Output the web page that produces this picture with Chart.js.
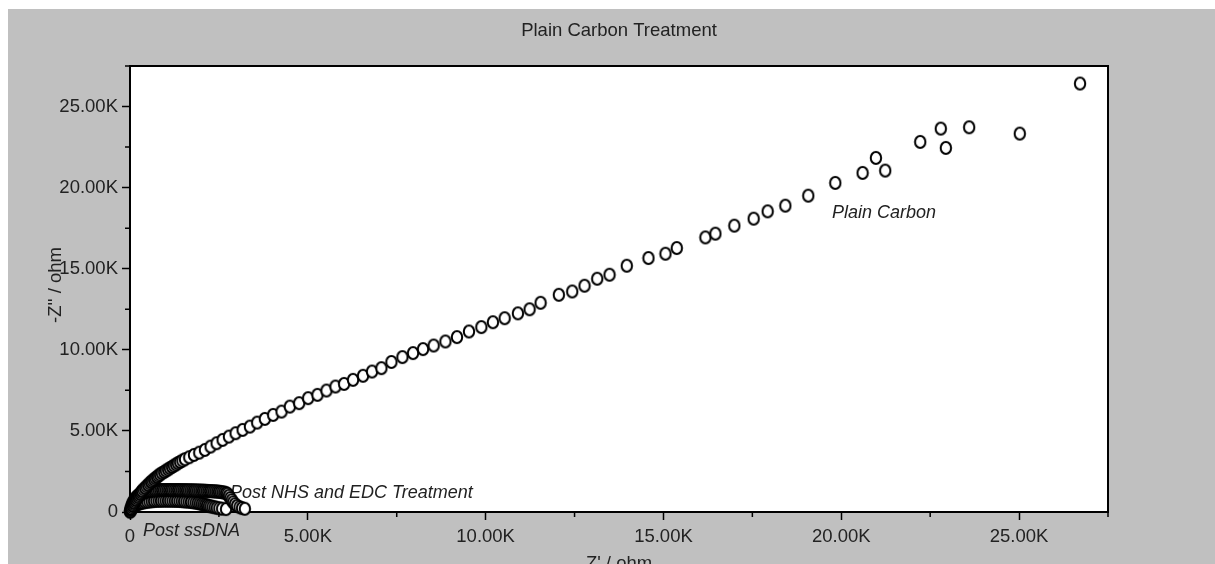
<!DOCTYPE html>
<html>
<head>
<meta charset="utf-8">
<title>Plain Carbon Treatment</title>
<script src="https://cdn.jsdelivr.net/npm/chart.js@4.4.1/dist/chart.umd.min.js"></script>
<style>
  html, body { margin: 0; padding: 0; background: #fff; overflow: hidden; }
  #panel { position: absolute; left: 8px; top: 9px; width: 1207px; height: 555px; background: #c0c0c0; }
  canvas { display: block; }
</style>
</head>
<body>
<div id="panel"><canvas id="chart" width="1207" height="555"></canvas></div>
<script>
// Nyquist data (ohm)
const plainZre = [28, 52, 80, 99, 115, 138, 166, 195, 228, 251, 283, 306, 339, 377, 424, 461, 508, 546, 592, 629,
  676, 713, 760, 797, 845, 896, 958, 1008, 1070, 1120, 1182, 1233, 1295, 1345, 1408, 1472, 1545, 1666, 1798,
  1947, 2107, 2267, 2435, 2604, 2781, 2969, 3166, 3371, 3576, 3792, 4025, 4261, 4494, 4756, 5009, 5272, 5525, 5778, 6020,
  6272, 6553, 6806, 7070, 7351, 7660, 7958, 8239, 8539, 8868, 9194, 9531, 9879, 10205, 10534, 10908, 11236, 11545, 12059, 12435,
  12781, 13138, 13483, 13969, 14579, 15056, 15374, 16180, 16461, 16994, 17537, 17930, 18427, 19073, 19832, 20599, 20974, 21236, 22219, 22798,
  22940, 23596, 25019, 26713];
const plainZim = [190, 285, 372, 460, 553, 650, 738, 836, 921, 1020, 1108, 1207, 1292, 1392, 1478, 1577, 1663, 1762, 1848, 1932,
  2003, 2086, 2158, 2241, 2312, 2395, 2466, 2549, 2621, 2704, 2775, 2858, 2929, 3013, 3084, 3168, 3253, 3377, 3519,
  3661, 3827, 4031, 4241, 4445, 4648, 4858, 5062, 5266, 5513, 5741, 5988, 6192, 6500, 6710, 7019, 7222, 7488, 7735, 7900,
  8148, 8400, 8661, 8871, 9250, 9550, 9797, 10044, 10266, 10513, 10784, 11130, 11402, 11700, 11950, 12250, 12500, 12900, 13395, 13599,
  13951, 14383, 14630, 15185, 15661, 15926, 16278, 16933, 17161, 17655, 18087, 18538, 18889, 19507, 20291, 20908, 21833, 21049, 22820, 23642,
  22450, 23722, 23333, 26420];

const nhsZre = [5, 12, 20, 30, 42, 56, 72, 90, 110, 132, 156, 182, 210, 240, 272, 306, 342, 380, 420, 462,
  506, 552, 600, 650, 700, 750, 800, 850, 900, 950, 1000, 1050, 1100, 1150, 1200, 1250, 1300, 1350, 1400, 1450,
  1500, 1550, 1600, 1650, 1700, 1750, 1800, 1850, 1900, 1950, 2000, 2050, 2100, 2150, 2200, 2250, 2300, 2350, 2400, 2450,
  2500, 2550, 2600, 2650, 2700, 2740, 2780, 2820, 2860, 2900, 2950, 3010, 3080, 3150, 3230];
const nhsZim = [40, 115, 200, 285, 370, 455, 540, 620, 695, 770, 845, 910, 970, 1030, 1080, 1125, 1165, 1200, 1230, 1260,
  1285, 1305, 1320, 1332, 1340, 1346, 1350, 1353, 1355, 1356, 1357, 1357, 1357, 1356, 1356, 1355, 1354, 1353, 1352, 1350,
  1348, 1346, 1344, 1341, 1338, 1335, 1332, 1329, 1325, 1321, 1317, 1313, 1308, 1303, 1298, 1292, 1285, 1278, 1270, 1261,
  1250, 1237, 1220, 1200, 1170, 1120, 1000, 860, 730, 600, 480, 380, 300, 240, 200];

const dnaZre = [5, 12, 22, 35, 50, 68, 90, 115, 145, 180, 220, 265, 315, 370, 425, 485, 545, 610, 675, 740,
  805, 870, 935, 1000, 1065, 1130, 1195, 1260, 1325, 1390, 1455, 1520, 1585, 1650, 1715, 1780, 1845, 1905, 1960, 2015,
  2065, 2115, 2165, 2215, 2265, 2320, 2380, 2440, 2510, 2590, 2700];
const dnaZim = [25, 70, 120, 170, 220, 270, 320, 365, 410, 452, 490, 525, 557, 585, 610, 632, 650, 665, 677, 686,
  692, 696, 698, 699, 699, 698, 695, 691, 686, 680, 672, 662, 650, 636, 620, 601, 580, 556, 530, 500,
  470, 440, 410, 380, 350, 320, 290, 260, 230, 205, 180];

const majorTicks = [0, 5000, 10000, 15000, 20000, 25000];
const minorTicks = [2500, 7500, 12500, 17500, 22500, 27500];

const FAMILY = "'Liberation Sans', Arial, Helvetica, sans-serif";
const tickFont = { family: FAMILY, size: 18.5 };
const textColor = '#222';

const fmt = v => v === 0 ? '0' : (v / 1000).toFixed(2) + 'K';

// open marker, a little taller than wide like the original plot
function ring() {
  const c = document.createElement('canvas');
  c.width = 14;
  c.height = 16;
  const g = c.getContext('2d');
  g.beginPath();
  g.ellipse(7, 8, 5.2, 6, 0, 0, 2 * Math.PI);
  g.fillStyle = '#fff';
  g.fill();
  g.lineWidth = 2;
  g.strokeStyle = '#000';
  g.stroke();
  return c;
}
const marker = ring();

function series(label, xs, ys) {
  return {
    label,
    data: xs.map((x, i) => ({ x, y: ys[i] })),
    pointStyle: marker,
    pointRadius: 6,
    showLine: false,
    clip: false
  };
}

// plot box, minor ticks and all free text
const decor = {
  id: 'decor',
  beforeDraw(chart) {
    const { ctx, chartArea: a } = chart;
    ctx.save();
    ctx.fillStyle = '#fff';
    ctx.fillRect(a.left, a.top, a.right - a.left, a.bottom - a.top);
    ctx.restore();
  },
  beforeDatasetsDraw(chart) {
    const ctx = chart.ctx;
    ctx.save();
    ctx.fillStyle = textColor;
    ctx.font = 'italic 18px ' + FAMILY;
    ctx.textAlign = 'left';
    ctx.textBaseline = 'alphabetic';
    ctx.fillText('Plain Carbon', 824, 209);
    ctx.fillText('Post NHS and EDC Treatment', 222, 489);
    ctx.fillText('Post ssDNA', 135, 527);
    ctx.restore();
  },
  afterDraw(chart) {
    const { ctx, chartArea: a, scales } = chart;
    ctx.save();
    ctx.strokeStyle = '#000';
    ctx.lineWidth = 2;
    ctx.beginPath();
    ctx.moveTo(a.left, a.top);
    ctx.lineTo(a.right, a.top);
    ctx.lineTo(a.right, a.bottom);
    ctx.stroke();

    ctx.lineWidth = 1.5;
    ctx.beginPath();
    for (const v of minorTicks) {
      const px = scales.x.getPixelForValue(v);
      ctx.moveTo(px, a.bottom);
      ctx.lineTo(px, a.bottom + 5);
      const py = scales.y.getPixelForValue(v);
      ctx.moveTo(a.left - 5, py);
      ctx.lineTo(a.left, py);
    }
    ctx.stroke();

    ctx.fillStyle = textColor;
    ctx.font = '18.5px ' + FAMILY;
    ctx.textAlign = 'center';
    ctx.textBaseline = 'alphabetic';
    ctx.fillText('Plain Carbon Treatment', (a.left + a.right) / 2, 27);
    ctx.fillText("Z' / ohm", (a.left + a.right) / 2, 560);

    ctx.translate(47.5, (a.top + a.bottom) / 2 - 4);
    ctx.rotate(-Math.PI / 2);
    ctx.textBaseline = 'middle';
    ctx.fillText("-Z'' / ohm", 0, 0);
    ctx.restore();
  }
};

function axis(fit, pad) {
  return {
    type: 'linear',
    min: 0,
    max: 27500,
    afterBuildTicks: s => { s.ticks = majorTicks.map(v => ({ value: v })); },
    afterFit: fit,
    grid: { drawOnChartArea: false, tickLength: 8, tickColor: '#000', tickWidth: 1.5 },
    border: { display: true, color: '#000', width: 2 },
    ticks: { font: tickFont, color: textColor, padding: pad, maxRotation: 0, autoSkip: false, callback: fmt }
  };
}

new Chart('chart', {
  type: 'scatter',
  data: {
    datasets: [
      series('Plain Carbon', plainZre, plainZim),
      series('Post NHS and EDC Treatment', nhsZre, nhsZim),
      series('Post ssDNA', dnaZre, dnaZim)
    ]
  },
  options: {
    responsive: false,
    animation: false,
    layout: { padding: { top: 57, right: 107, bottom: 0, left: 0 } },
    plugins: { legend: { display: false }, title: { display: false }, tooltip: { enabled: false } },
    scales: {
      x: axis(s => { s.height = 52; }, 6),
      y: axis(s => { s.width = 122; }, 4)
    }
  },
  plugins: [decor]
});
</script>
</body>
</html>
